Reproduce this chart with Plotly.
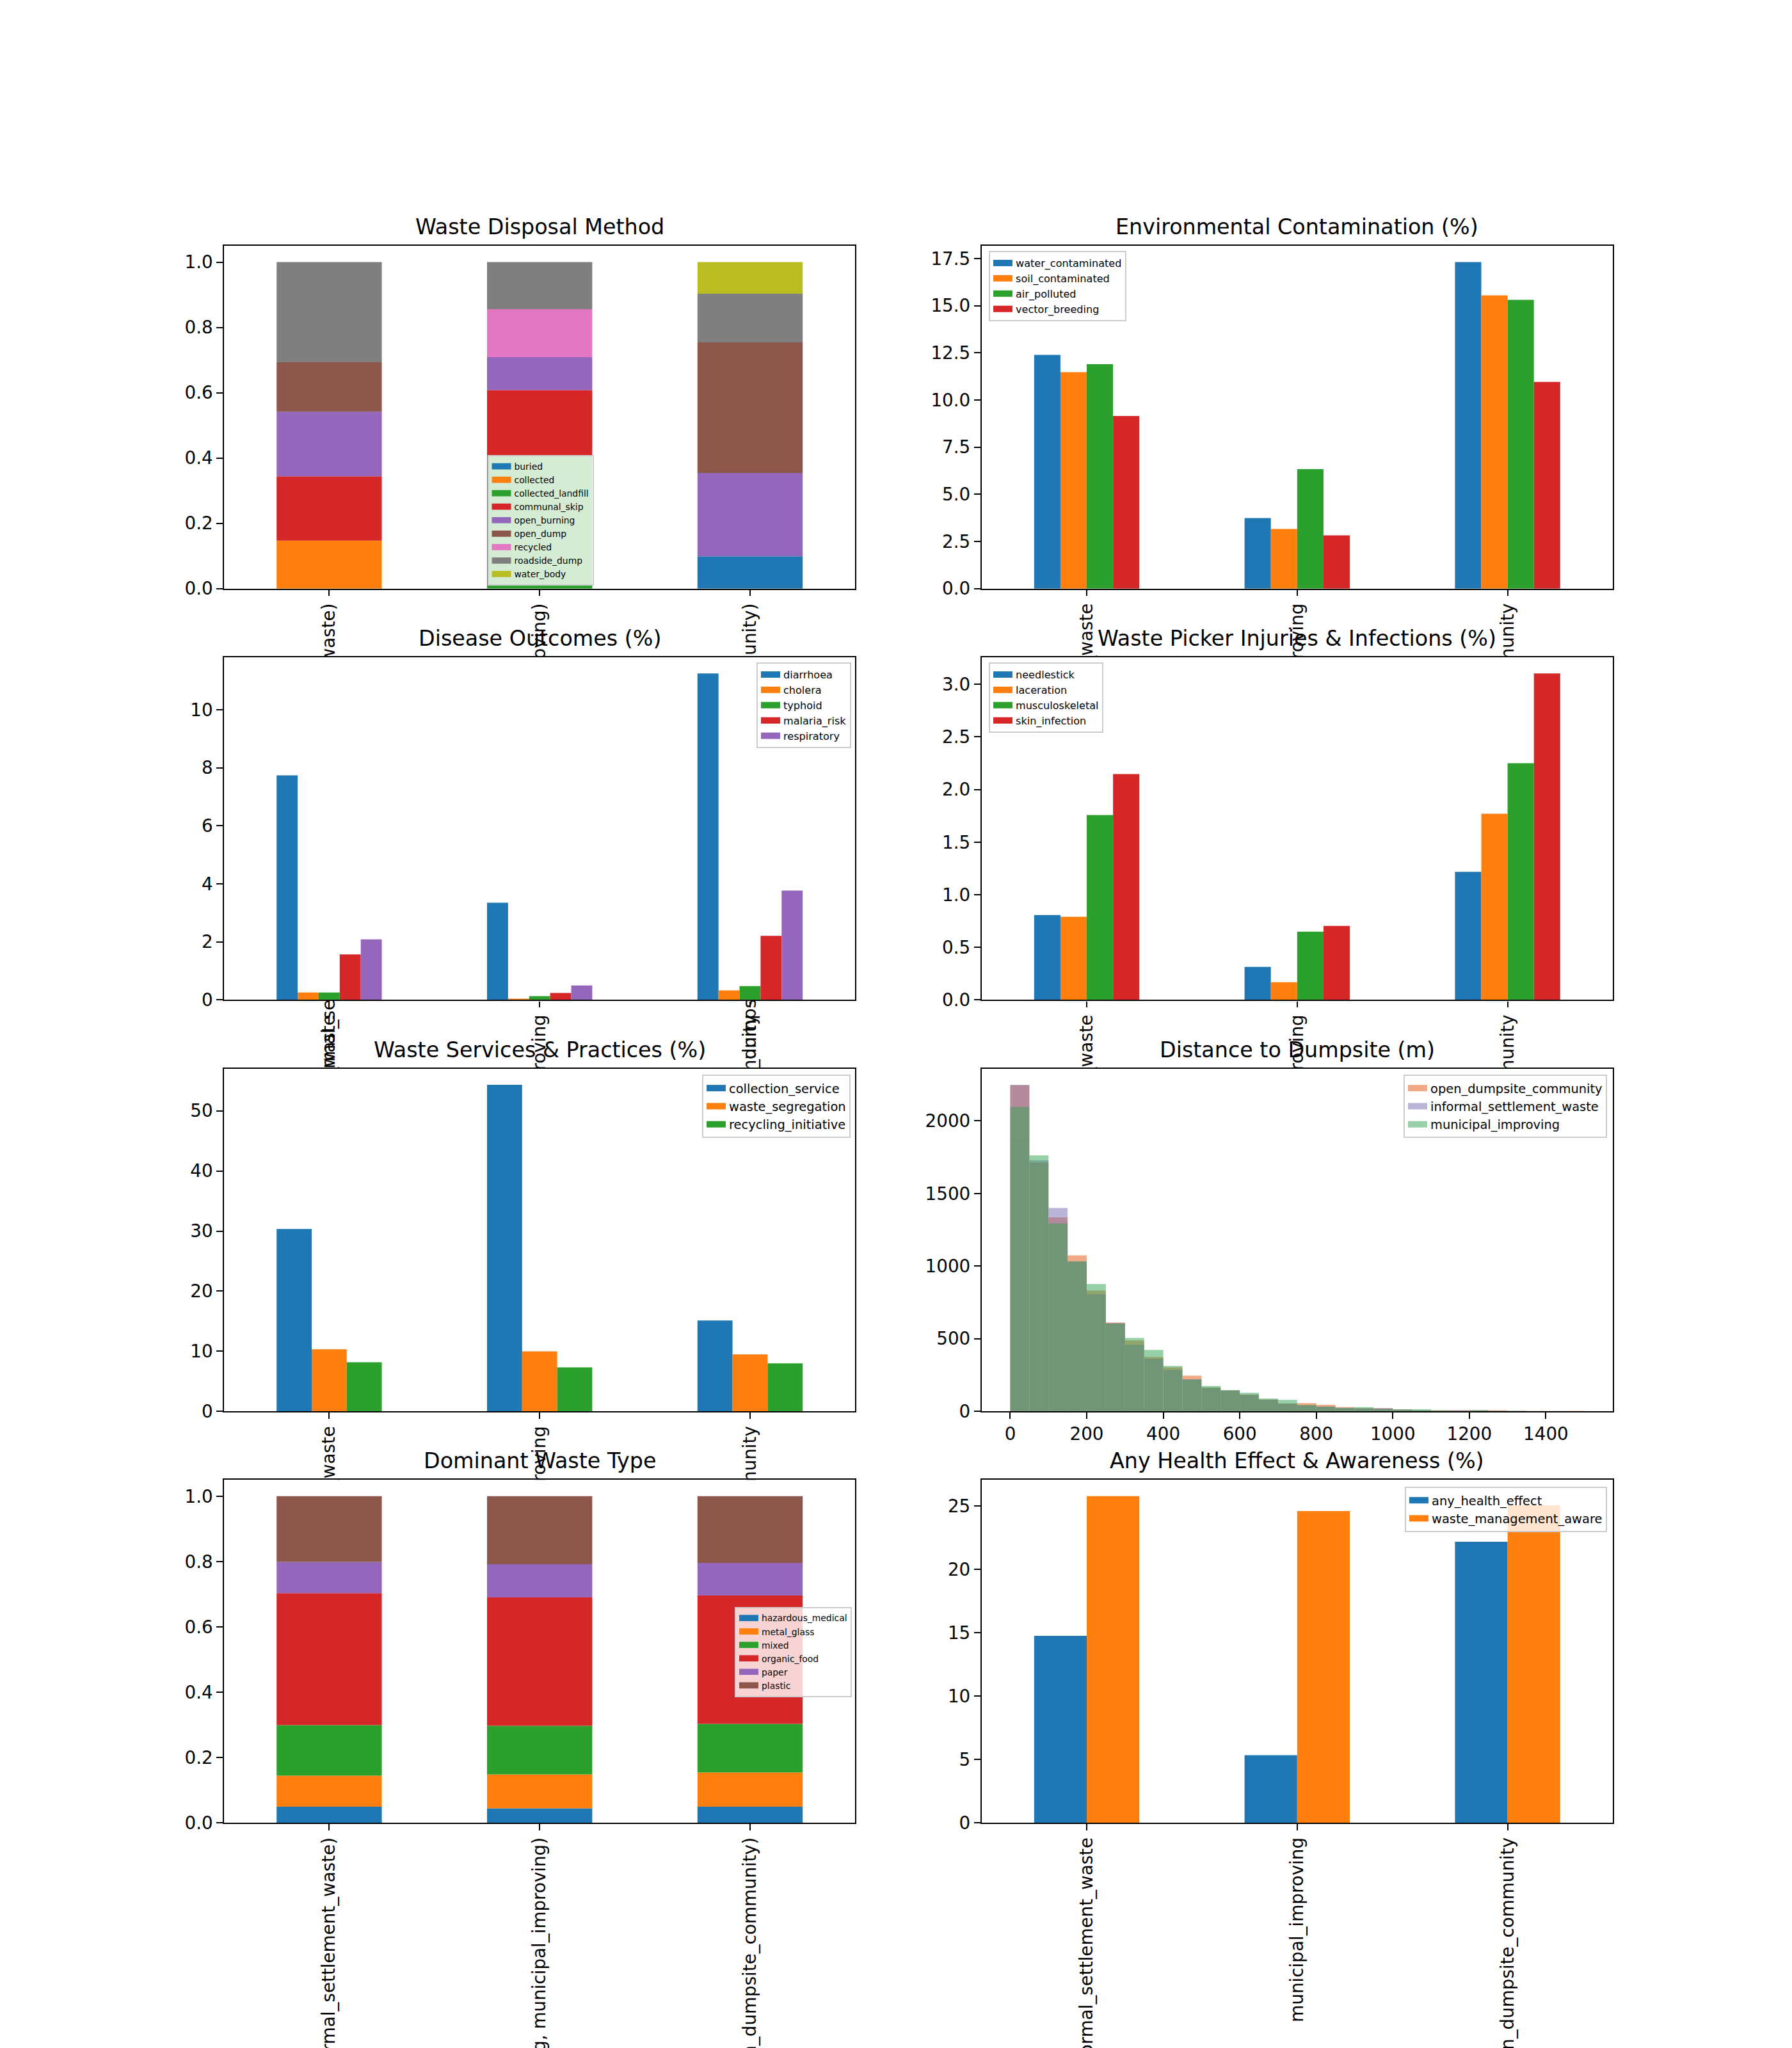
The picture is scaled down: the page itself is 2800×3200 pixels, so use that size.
import plotly.graph_objects as go

# ---------------- data ----------------
sites = ["informal_settlement_waste", "municipal_improving", "open_dumpsite_community"]
pair_labels = ["(informal_settlement_waste, informal_settlement_waste)",
               "(municipal_improving, municipal_improving)",
               "(open_dumpsite_community, open_dumpsite_community)"]

# Waste Disposal Method (share)
disposal_names = ["buried", "collected", "collected_landfill", "communal_skip", "open_burning",
                  "open_dump", "recycled", "roadside_dump", "water_body"]
buried = [0.0, 0.0, 0.099]
collected = [0.147, 0.0, 0.0]
collected_landfill = [0.0, 0.405, 0.0]
communal_skip = [0.197, 0.203, 0.0]
open_burning = [0.198, 0.101, 0.255]
open_dump = [0.151, 0.0, 0.400]
recycled = [0.0, 0.147, 0.0]
roadside_dump = [0.307, 0.144, 0.149]
water_body = [0.0, 0.0, 0.097]

# Environmental Contamination (%)
env_names = ["water_contaminated", "soil_contaminated", "air_polluted", "vector_breeding"]
water_contaminated = [12.39, 3.74, 17.31]
soil_contaminated = [11.47, 3.16, 15.55]
air_polluted = [11.90, 6.33, 15.31]
vector_breeding = [9.15, 2.82, 10.96]

# Disease Outcomes (%)
disease_names = ["diarrhoea", "cholera", "typhoid", "malaria_risk", "respiratory"]
diarrhoea = [7.74, 3.35, 11.25]
cholera = [0.26, 0.04, 0.33]
typhoid = [0.26, 0.13, 0.48]
malaria_risk = [1.57, 0.24, 2.21]
respiratory = [2.09, 0.50, 3.77]

# Waste Picker Injuries & Infections (%)
injury_names = ["needlestick", "laceration", "musculoskeletal", "skin_infection"]
needlestick = [0.807, 0.315, 1.217]
laceration = [0.791, 0.168, 1.769]
musculoskeletal = [1.758, 0.649, 2.250]
skin_infection = [2.147, 0.704, 3.103]

# Waste Services & Practices (%)
service_names = ["collection_service", "waste_segregation", "recycling_initiative"]
collection_service = [30.35, 54.33, 15.13]
waste_segregation = [10.32, 9.99, 9.47]
recycling_initiative = [8.18, 7.33, 7.99]

# Distance to Dumpsite (m) histogram counts, bins of 50 m from 0 to 1500
dist_bin_start = 0
dist_bin_width = 50
hist_names = ["open_dumpsite_community", "informal_settlement_waste", "municipal_improving"]
dist_open = [2245, 1713, 1335, 1074, 832, 611, 488, 374, 303, 246, 165, 144, 116, 82, 55,
             57, 45, 29, 22, 21, 13, 7, 3, 4, 5, 3, 1, 1, 0, 1]
dist_informal = [2248, 1728, 1400, 1031, 806, 608, 458, 362, 285, 221, 162, 143, 113, 80, 53,
                 39, 33, 24, 20, 22, 12, 6, 2, 3, 5, 2, 1, 0, 1, 0]
dist_municipal = [2096, 1762, 1294, 1033, 877, 605, 505, 423, 313, 219, 175, 146, 128, 88, 79,
                  45, 32, 24, 29, 16, 14, 14, 3, 2, 4, 2, 1, 0, 0, 0]

# Dominant Waste Type (share)
wtype_names = ["hazardous_medical", "metal_glass", "mixed", "organic_food", "paper", "plastic"]
hazardous_medical = [0.049, 0.044, 0.049]
metal_glass = [0.095, 0.104, 0.105]
mixed = [0.155, 0.149, 0.149]
organic_food = [0.404, 0.393, 0.393]
paper = [0.096, 0.102, 0.100]
plastic = [0.201, 0.208, 0.204]

# Any Health Effect & Awareness (%)
health_names = ["any_health_effect", "waste_management_aware"]
any_health_effect = [14.75, 5.33, 22.18]
waste_management_aware = [25.77, 24.60, 25.06]

titles = ["Waste Disposal Method", "Environmental Contamination (%)", "Disease Outcomes (%)",
          "Waste Picker Injuries & Infections (%)", "Waste Services & Practices (%)",
          "Distance to Dumpsite (m)", "Dominant Waste Type", "Any Health Effect & Awareness (%)"]

# ---------------- style / layout ----------------
W, H = 2800, 3200
TAB10 = ['#1f77b4', '#ff7f0e', '#2ca02c', '#d62728', '#9467bd', '#8c564b', '#e377c2',
         '#7f7f7f', '#bcbd22', '#17becf']
HIST_COLORS = ['#e6550d', '#756bb1', '#31a354']
FONT = "DejaVu Sans"
PT = 200 / 72.0
TICK_FS = 10 * PT
TITLE_FS = 12 * PT

left, right, bottom, top, wsp, hsp = 0.125, 0.9, 0.11, 0.88, 0.2, 0.2
aw = (right - left) / (2 + wsp)
ah = (top - bottom) / (4 + 3 * hsp)
col_dom = [(left + c * aw * (1 + wsp), left + c * aw * (1 + wsp) + aw) for c in range(2)]
row_dom = [(top - r * ah * (1 + hsp) - ah, top - r * ah * (1 + hsp)) for r in range(4)]

fig = go.Figure()
layout = dict(width=W, height=H, margin=dict(l=0, r=0, t=0, b=0), barmode="overlay",
              paper_bgcolor="white", plot_bgcolor="white", showlegend=True,
              font=dict(family=FONT, color="black"))
annotations = []
legend_fs = {}


def axis_names(k):
    return ("x" if k == 1 else f"x{k}", "y" if k == 1 else f"y{k}",
            "xaxis" if k == 1 else f"xaxis{k}", "yaxis" if k == 1 else f"yaxis{k}",
            "legend" if k == 1 else f"legend{k}")


def setup(k, xrange, yrange, ydtick, yfmt, xticks=None, xdtick=None):
    r, c = (k - 1) // 2, (k - 1) % 2
    xn, yn, xa, ya, _ = axis_names(k)
    common = dict(showline=True, mirror=True, linecolor="black", linewidth=2.2,
                  ticks="outside", ticklen=9.7, tickwidth=2.2, tickcolor="black",
                  showgrid=False, zeroline=False, automargin=False, fixedrange=True,
                  tickfont=dict(family=FONT, size=TICK_FS, color="black"))
    xd = dict(common, domain=list(col_dom[c]), anchor=yn, range=list(xrange),
              ticklabeloverflow="allow")
    if xticks is not None:
        xd.update(tickmode="array", tickvals=list(range(len(xticks))), ticktext=xticks,
                  tickangle=-90)
    else:
        xd.update(tick0=0, dtick=xdtick, tickformat="d", tickangle=0)
    yd = dict(common, domain=list(row_dom[r]), anchor=xn, range=list(yrange),
              tick0=0, dtick=ydtick, tickformat=yfmt)
    layout[xa] = xd
    layout[ya] = yd
    # white cover so labels of earlier panels are hidden behind this panel's area
    xs = (xrange[1] - xrange[0]) * 0.1
    ys = (yrange[1] - yrange[0]) * 0.1
    fig.add_trace(go.Heatmap(z=[[0]], x=[xrange[0] - xs, xrange[1] + xs],
                             y=[yrange[0] - ys, yrange[1] + ys],
                             colorscale=[[0, "white"], [1, "white"]], zmin=0, zmax=1,
                             showscale=False, hoverinfo="skip", xaxis=xn, yaxis=yn))
    annotations.append(dict(text=titles[k - 1], x=(col_dom[c][0] + col_dom[c][1]) / 2,
                            y=row_dom[r][1], xref="paper", yref="paper", xanchor="center",
                            yanchor="bottom", yshift=8, showarrow=False,
                            font=dict(family=FONT, size=TITLE_FS, color="black")))


def legend_cfg(k, px, py, xanchor, yanchor, fs):
    legend_fs[k] = fs
    return dict(x=px / W, y=1 - py / H, xanchor=xanchor, yanchor=yanchor,
                bgcolor="rgba(255,255,255,0.8)", bordercolor="#cccccc", borderwidth=2,
                traceorder="normal", font=dict(family=FONT, size=fs, color="black"),
                itemwidth=30)


def legend_proxy(k, name, color, opacity=1.0):
    # wide, flat legend patch like matplotlib's rectangle handles
    xn, yn, _, _, lg = axis_names(k)
    fig.add_trace(go.Scatter(x=[None], y=[None], mode="lines", name=name, opacity=opacity,
                             line=dict(color=color, width=0.7 * legend_fs[k]),
                             hoverinfo="skip", xaxis=xn, yaxis=yn, legend=lg))


def stacked(k, names, series):
    xn, yn, _, _, lg = axis_names(k)
    base = [0.0] * len(series[0])
    for j, (nm, vals) in enumerate(zip(names, series)):
        fig.add_trace(go.Bar(x=list(range(len(vals))), y=vals, base=list(base), width=0.5,
                             name=nm, marker=dict(color=TAB10[j], line=dict(width=0)),
                             showlegend=False, xaxis=xn, yaxis=yn))
        base = [b + v for b, v in zip(base, vals)]
    for j, nm in enumerate(names):
        legend_proxy(k, nm, TAB10[j])


def grouped(k, names, series):
    xn, yn, _, _, lg = axis_names(k)
    n = len(series)
    w = 0.5 / n
    for j, (nm, vals) in enumerate(zip(names, series)):
        fig.add_trace(go.Bar(x=[i + (j - (n - 1) / 2) * w for i in range(len(vals))], y=vals,
                             width=w, name=nm, marker=dict(color=TAB10[j], line=dict(width=0)),
                             showlegend=False, xaxis=xn, yaxis=yn))
    for j, nm in enumerate(names):
        legend_proxy(k, nm, TAB10[j])


def ymax(series):
    return max(max(s) for s in series) * 1.05


XR = (-0.5, 2.5)

# 1 Waste Disposal Method
s1 = [buried, collected, collected_landfill, communal_skip, open_burning, open_dump,
      recycled, roadside_dump, water_body]
layout["legend"] = legend_cfg(1, 844.5, 915, "center", "bottom", 5 * PT)
setup(1, XR, (0, 1.05), 0.2, ".1f", xticks=pair_labels)
stacked(1, disposal_names, s1)

# 2 Environmental contamination
s2 = [water_contaminated, soil_contaminated, air_polluted, vector_breeding]
layout["legend2"] = legend_cfg(2, 1545, 392, "left", "top", 5.79 * PT)
setup(2, XR, (0, ymax(s2)), 2.5, ".1f", xticks=sites)
grouped(2, env_names, s2)

# 3 Disease outcomes
s3 = [diarrhoea, cholera, typhoid, malaria_risk, respiratory]
layout["legend3"] = legend_cfg(3, 1330, 1035, "right", "top", 5.79 * PT)
setup(3, XR, (0, ymax(s3)), 2, "d", xticks=sites)
grouped(3, disease_names, s3)

# 4 Waste picker injuries
s4 = [needlestick, laceration, musculoskeletal, skin_infection]
layout["legend4"] = legend_cfg(4, 1545, 1035, "left", "top", 5.79 * PT)
setup(4, XR, (0, ymax(s4)), 0.5, ".1f", xticks=sites)
grouped(4, injury_names, s4)

# 5 Waste services
s5 = [collection_service, waste_segregation, recycling_initiative]
layout["legend5"] = legend_cfg(5, 1329, 1679, "right", "top", 7 * PT)
setup(5, XR, (0, ymax(s5)), 10, "d", xticks=sites)
grouped(5, service_names, s5)

# 6 Distance histogram
s6 = [dist_open, dist_informal, dist_municipal]
nb = len(dist_open)
edges_lo = dist_bin_start
edges_hi = dist_bin_start + nb * dist_bin_width
xm = (edges_hi - edges_lo) * 0.05
layout["legend6"] = legend_cfg(6, 2511, 1679, "right", "top", 7 * PT)
setup(6, (edges_lo - xm, edges_hi + xm), (0, ymax(s6)), 500, "d", xdtick=200)
centers = [dist_bin_start + (i + 0.5) * dist_bin_width for i in range(nb)]
for j, (nm, vals) in enumerate(zip(hist_names, s6)):
    fig.add_trace(go.Bar(x=centers, y=vals, width=dist_bin_width, name=nm, opacity=0.5,
                         marker=dict(color=HIST_COLORS[j], line=dict(width=0)),
                         showlegend=False, xaxis="x6", yaxis="y6"))
for j, nm in enumerate(hist_names):
    legend_proxy(6, nm, HIST_COLORS[j], opacity=0.5)

# 7 Dominant waste type
s7 = [hazardous_medical, metal_glass, mixed, organic_food, paper, plastic]
layout["legend7"] = legend_cfg(7, 1331, 2581, "right", "middle", 5 * PT)
setup(7, XR, (0, 1.05), 0.2, ".1f", xticks=pair_labels)
stacked(7, wtype_names, s7)

# 8 Any health effect
s8 = [any_health_effect, waste_management_aware]
layout["legend8"] = legend_cfg(8, 2511, 2323, "right", "top", 7 * PT)
setup(8, XR, (0, ymax(s8)), 5, "d", xticks=sites)
grouped(8, health_names, s8)

layout["annotations"] = annotations
fig.update_layout(**layout)
fig.write_html("out.html")
